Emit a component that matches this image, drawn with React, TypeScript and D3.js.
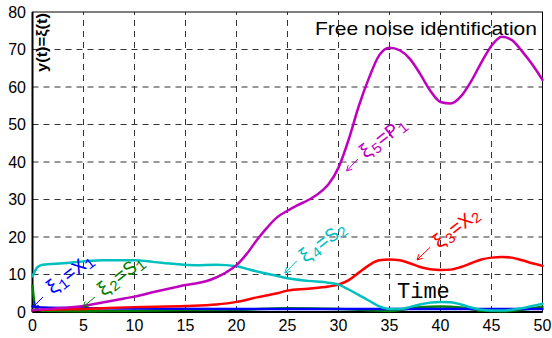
import React from 'react';
import * as d3 from 'd3';

// time samples
const tP = [0, 2, 5, 7, 9, 10, 12, 14, 15, 16, 17, 18, 19, 20, 21, 22, 23, 24, 25, 26, 27, 28, 29, 30, 31, 32, 33, 34, 35, 36, 37, 38, 39, 40, 41, 42, 43, 44, 45, 46, 47, 48, 49, 50];
const xi5 = [0.5, 0.9, 1.6, 2.6, 3.6, 4.1, 5.4, 6.6, 7.2, 7.6, 8.2, 9.2, 10.6, 12.5, 15.5, 19.2, 22.5, 25.3, 27, 28.5, 29.8, 31.5, 34, 38.5, 46, 55, 62.5, 68.5, 70.5, 69.8, 67.5, 63.5, 59, 56, 55.6, 57.5, 61.5, 66.5, 71, 73.4, 72.5, 69.5, 66, 61.9];

const tS = [0, 0.5, 1, 3, 5, 7, 10, 12, 14, 16, 18, 20, 21, 22, 24, 25, 27, 29, 30, 31, 32, 33, 34, 35, 36, 37, 38, 39, 40, 41, 42, 43, 44, 45, 46, 47, 48, 49, 50];
const xi4 = [9.5, 12, 12.6, 13, 13.5, 13.8, 13.8, 13.3, 12.8, 12.5, 12.6, 12.2, 11.5, 10.8, 9.6, 9, 8.3, 7.8, 7.3, 6, 4.5, 3, 1.5, 0.8, 0.8, 1.3, 2, 2.5, 2.7, 2.6, 2, 1.2, 0.6, 0.4, 0.4, 0.6, 1, 1.6, 2.2];

const tX = [0, 5, 10, 15, 18, 20, 22, 24, 25, 27, 29, 30, 31, 32, 33, 34, 35, 36, 37, 38, 39, 40, 41, 42, 43, 44, 45, 46, 47, 48, 49, 50];
const xi3 = [0.5, 0.8, 1.3, 1.6, 2, 2.7, 3.9, 5, 5.7, 6.2, 6.8, 7.3, 8.5, 10.5, 12.5, 13.8, 14, 13.8, 13, 12, 11.4, 11.2, 11.3, 12, 13, 14, 14.5, 14.7, 14.5, 13.8, 13, 12.3];

const tB = [0, 1, 5, 10, 20, 30, 40, 50];
const xi1 = [1.5, 1.2, 1, 0.9, 0.8, 0.8, 0.8, 0.8];

const tG = [0, 0.3, 1, 5, 10, 15, 20, 25, 30, 35, 38, 40, 42, 44, 46, 48, 50];
const xi2 = [7, 1, 0.3, 0.2, 0.3, 0.5, 0.6, 1, 0.8, 0.3, 1.3, 1.5, 1.2, 0.4, 0.2, 0.6, 1.4];

const xTicks = [0, 5, 10, 15, 20, 25, 30, 35, 40, 45, 50];
const yTicks = [0, 10, 20, 30, 40, 50, 60, 70, 80];

// annotations: label pieces, text anchor, arrow tail and tip (data units)
const notes = [
  { sym: '1', rhs: 'X', sub: '1', color: '#0000ff', tx: 1.9, ty: 4.4, ax: 1.03, ay: 4, bx: 0.05, by: 1.3 },
  { sym: '2', rhs: 'S', sub: '1', color: '#008000', tx: 6.9, ty: 3.9, ax: 6.13, ay: 4, bx: 4.95, by: 1.3 },
  { sym: '4', rhs: 'S', sub: '2', color: '#00bfbf', tx: 26.7, ty: 12.8, ax: 25.9, ay: 13.6, bx: 24.75, by: 10.4 },
  { sym: '3', rhs: 'X', sub: '2', color: '#ff0000', tx: 39.8, ty: 16.6, ax: 39, ay: 17.3, bx: 37.7, by: 13.9 },
  { sym: '5', rhs: 'P', sub: '1', color: '#bf00bf', tx: 32.6, ty: 40.6, ax: 31.9, ay: 40.8, bx: 30.8, by: 37.6 },
];

export default function App() {
  const W = 552, H = 338;
  const x = d3.scaleLinear().domain([0, 50]).range([32.5, 542.5]);
  const y = d3.scaleLinear().domain([0, 80]).range([312, 12]);

  const mk = (ts: number[], vs: number[]) =>
    d3.line<number>().x((_, i) => x(ts[i])).y(d => y(d)).curve(d3.curveMonotoneX)(vs) || '';

  const series = [
    { d: mk(tG, xi2), c: '#008000' },
    { d: mk(tB, xi1), c: '#0000ff' },
    { d: mk(tX, xi3), c: '#ff0000' },
    { d: mk(tS, xi4), c: '#00bfbf' },
    { d: mk(tP, xi5), c: '#bf00bf' },
  ];

  const font = 'Arial, "Liberation Sans", sans-serif';
  const mono = '"Liberation Mono", "Courier New", monospace';

  return (
    <svg width={W} height={H} style={{ position: 'absolute', left: 0, top: 0, background: '#fff' }}>
      <rect x={0} y={0} width={W} height={H} fill="#fff" />
      {/* grid */}
      <g stroke="#333" strokeWidth={1} strokeDasharray="6,5">
        {xTicks.slice(1, -1).map(t => (
          <line key={'gx' + t} x1={x(t)} x2={x(t)} y1={y(0)} y2={y(80)} />
        ))}
        {yTicks.slice(1, -1).map(t => (
          <line key={'gy' + t} x1={x(0)} x2={x(50)} y1={y(t)} y2={y(t)} />
        ))}
      </g>
      {/* box */}
      <rect x={x(0)} y={y(80)} width={x(50) - x(0)} height={y(0) - y(80)} fill="none" stroke="#000" strokeWidth={1} />
      <line x1={x(0)} x2={x(0)} y1={y(0)} y2={y(80)} stroke="#000" strokeWidth={2} />
      <line x1={x(0)} x2={x(50)} y1={y(0)} y2={y(0)} stroke="#000" strokeWidth={2} />

      {/* curves */}
      <g fill="none" strokeWidth={2.5} strokeLinejoin="round" strokeLinecap="round">
        {series.map((s, i) => <path key={i} d={s.d} stroke={s.c} />)}
      </g>

      {/* tick labels */}
      <g fontFamily={font} fontSize={16} fill="#000">
        {xTicks.map(t => (
          <text key={'tx' + t} x={x(t)} y={331} textAnchor="middle">{t}</text>
        ))}
        {yTicks.map(t => (
          <text key={'ty' + t} x={26} y={y(t) + 5.5} textAnchor="end">{t}</text>
        ))}
      </g>

      {/* annotations */}
      {notes.map((n, i) => {
        const ang = Math.atan2(y(n.by) - y(n.ay), x(n.bx) - x(n.ax));
        const hx = x(n.bx), hy = y(n.by), L = 6;
        const p1 = [hx - L * Math.cos(ang - 0.5), hy - L * Math.sin(ang - 0.5)];
        const p2 = [hx - L * Math.cos(ang + 0.5), hy - L * Math.sin(ang + 0.5)];
        return (
          <g key={'n' + i} stroke={n.color} fill={n.color}>
            <line x1={x(n.ax)} y1={y(n.ay)} x2={hx} y2={hy} strokeWidth={1} />
            <polyline points={`${p1[0]},${p1[1]} ${hx},${hy} ${p2[0]},${p2[1]}`} fill="none" strokeWidth={1} />
            <text
              transform={`translate(${x(n.tx)},${y(n.ty)}) rotate(-38)`}
              fontFamily={mono}
              fontSize={20}
              stroke="none"
            >
              <tspan>ξ</tspan>
              <tspan fontSize={15} dy={3}>{n.sym}</tspan>
              <tspan dy={-3}>=</tspan>
              <tspan>{n.rhs}</tspan>
              <tspan fontSize={15} dy={3}>{n.sub}</tspan>
            </text>
          </g>
        );
      })}

      {/* titles */}
      <text x={315} y={35} textLength={222} lengthAdjust="spacingAndGlyphs" fontFamily={font} fontSize={19} fill="#000">Free noise identification</text>
      <text transform="translate(47,13) rotate(-90)" textAnchor="end" textLength={59} lengthAdjust="spacingAndGlyphs" fontFamily={font} fontWeight="bold" fontSize={14} fill="#000">y(t)=ξ(t)</text>
      <text x={397} y={298} fontFamily={mono} fontSize={22} fill="#000">Time</text>
    </svg>
  );
}
